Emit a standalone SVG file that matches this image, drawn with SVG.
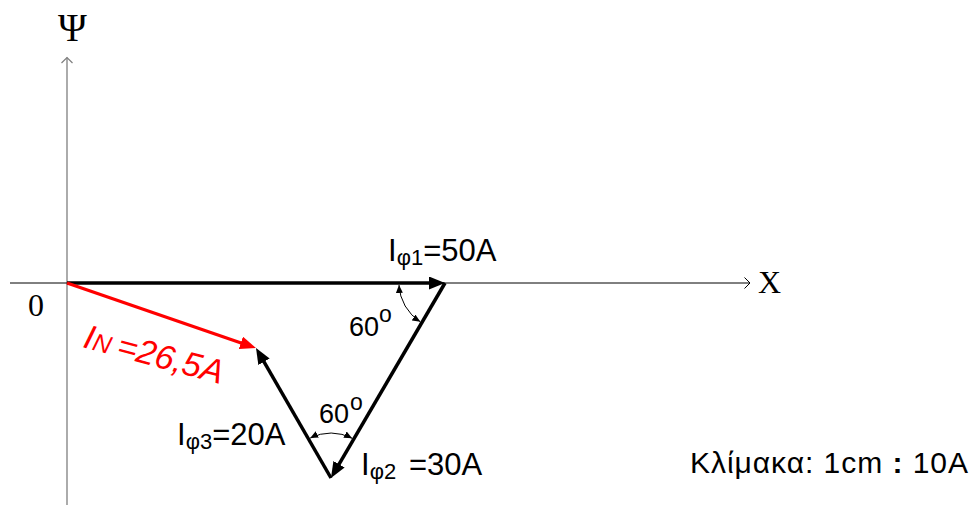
<svg xmlns="http://www.w3.org/2000/svg" width="974" height="505" viewBox="0 0 974 505">
<style>
.sans{font-family:"Liberation Sans",Arial,sans-serif;fill:#000}
.serif{font-family:"Liberation Serif","Times New Roman",serif;fill:#000}
.lbl{font-size:31px}
.sub{font-size:22px}
.ang{font-size:27px}
.sup{font-size:23px}
.vec{stroke:#000;stroke-width:3.5;fill:none;marker-end:url(#ah)}
.vecR{stroke:#ff0000;stroke-width:3.2;fill:none;marker-end:url(#ahR)}
.arc{stroke:#000;stroke-width:1;fill:none;marker-start:url(#tk);marker-end:url(#tk)}
</style>
<defs>
<marker id="ah" markerUnits="userSpaceOnUse" viewBox="0 0 16 13" markerWidth="16" markerHeight="13" refX="8" refY="6.5" orient="auto"><path d="M0,0 L16,6.5 L0,13 z" fill="#000"/></marker>
<marker id="ahR" markerUnits="userSpaceOnUse" viewBox="0 0 16 13" markerWidth="16" markerHeight="13" refX="8" refY="6.5" orient="auto"><path d="M0,0 L16,6.5 L0,13 z" fill="#ff0000"/></marker>
<marker id="tk" markerUnits="userSpaceOnUse" viewBox="0 0 8 7" markerWidth="8" markerHeight="7" refX="8" refY="3.5" orient="auto-start-reverse"><path d="M0,0 L8,3.5 L0,7 z" fill="#000"/></marker>
<marker id="chG" markerUnits="userSpaceOnUse" viewBox="0 0 8 13" markerWidth="8" markerHeight="13" refX="6.5" refY="6.5" orient="auto"><path d="M1,1 L6.5,6.5 L1,12" fill="none" stroke="#7f7f7f" stroke-width="1.2"/></marker>
<marker id="chK" markerUnits="userSpaceOnUse" viewBox="0 0 8 13" markerWidth="8" markerHeight="13" refX="6.5" refY="6.5" orient="auto"><path d="M1,1 L6.5,6.5 L1,12" fill="none" stroke="#000" stroke-width="1"/></marker>
</defs>
<rect width="974" height="505" fill="#fff"/>
<g id="axes">
<line id="axis-y" x1="67" y1="505" x2="67" y2="57.5" stroke="#7f7f7f" stroke-width="1.3" marker-end="url(#chG)"/>
<line id="axis-x" x1="10" y1="283" x2="750" y2="283" stroke="#000" stroke-width="1" marker-end="url(#chK)"/>
</g>
<g id="connectors">
<path id="v-i1" class="vec" d="M67,283 L437,283"/>
<path id="v-i2" class="vec" d="M445,283 L335,471.1"/>
<path id="v-i3" class="vec" d="M331,478 L260,354.9"/>
<path id="v-in" class="vecR" d="M67,283 L248.4,345.4"/>
<path id="arc-top" class="arc" d="M399,285 A46,46 0 0 0 420.3,321.8"/>
<path id="arc-bottom" class="arc" d="M310.2,438.1 A45,45 0 0 1 352.1,438.3"/>
</g>
<g id="label-psi"><text class="serif" x="72.5" y="41" font-size="39" text-anchor="middle">Ψ</text></g>
<g id="label-x"><text class="serif" x="758" y="293" font-size="32">X</text></g>
<g id="label-0"><text class="serif" x="36" y="316" font-size="32" text-anchor="middle">0</text></g>
<g id="label-i1"><text class="sans lbl" x="388" y="261">I<tspan class="sub" dy="4">φ1</tspan><tspan dy="-4">=50A</tspan></text></g>
<g id="label-i3"><text class="sans lbl" x="177" y="445">I<tspan class="sub" dy="4">φ3</tspan><tspan dy="-4">=20A</tspan></text></g>
<g id="label-i2"><text class="sans lbl" x="361" y="475">I<tspan class="sub" dy="4">φ2 </tspan><tspan x="409" dy="-4">=30A</tspan></text></g>
<g id="label-angle-top"><text class="sans ang" x="349" y="336">60<tspan class="sup" x="379" y="322">o</tspan></text></g>
<g id="label-angle-bottom"><text class="sans ang" x="319" y="423">60<tspan class="sup" x="350" y="410">o</tspan></text></g>
<g id="label-in"><text class="sans" x="82" y="347" font-size="34" font-style="italic" fill="#ff0000" style="fill:#ff0000" transform="rotate(15 82 347)">I<tspan font-size="25">N </tspan>=26,5A</text></g>
<g id="label-scale"><text class="sans" x="690" y="473" font-size="30" textLength="278" lengthAdjust="spacing">Κλίμακα: 1cm <tspan font-weight="bold">:</tspan> 10A</text></g>
</svg>
